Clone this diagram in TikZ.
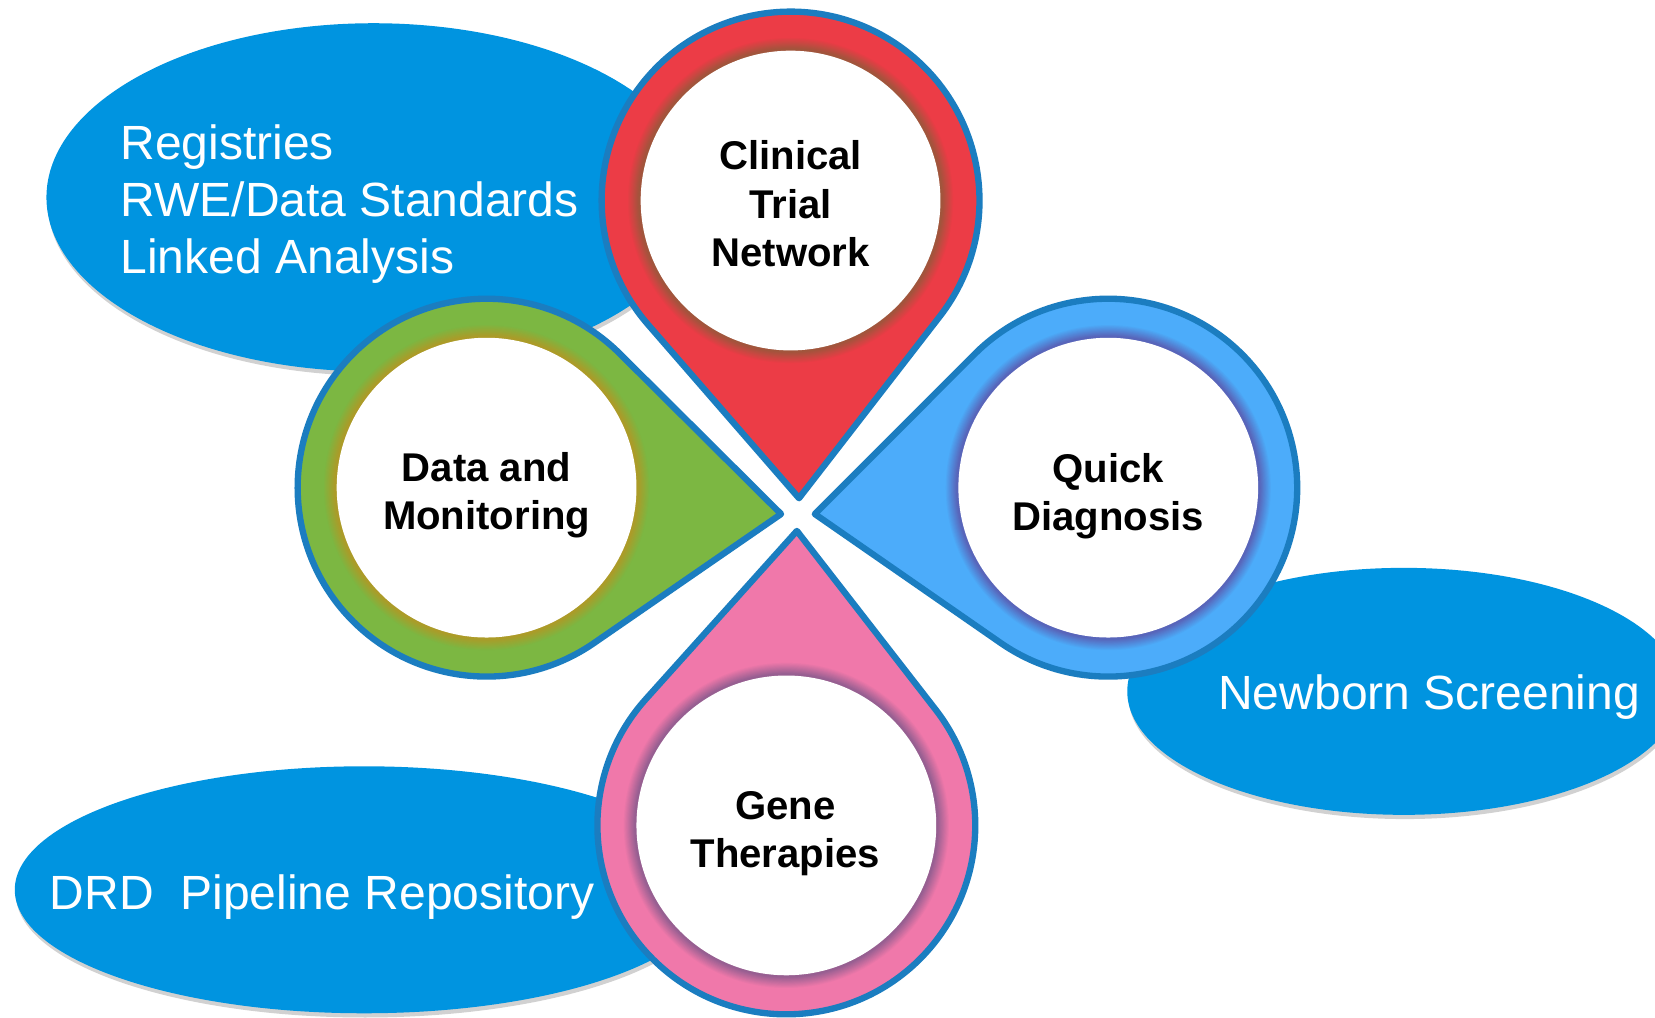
\documentclass[tikz,border=0pt]{standalone}
\usepackage{fontspec}
\setmainfont{Liberation Sans}
\usetikzlibrary{calc,shapes.geometric,shadows}
\definecolor{pinline}{RGB}{27,125,192}
\definecolor{ellblue}{RGB}{0,148,224}
\definecolor{redring}{RGB}{236,60,70}
\definecolor{redsh}{RGB}{160,85,60}
\definecolor{greenring}{RGB}{124,183,66}
\definecolor{greensh}{RGB}{172,155,40}
\definecolor{bluering}{RGB}{76,172,250}
\definecolor{bluesh}{RGB}{88,100,185}
\definecolor{pinkring}{RGB}{240,120,170}
\definecolor{pinksh}{RGB}{150,95,145}

% #1 centre, #2 tip, #3 ring colour, #4 inner shadow colour
\newcommand{\pinbody}[4]{%
  \path[fill=#3, draw=pinline, line width=6pt, line join=round]
    let \p1=($(#2)-(#1)$), \n1={veclen(\x1,\y1)}, \n2={atan2(\y1,\x1)}, \n3={acos(179/\n1)} in
    ($(#1)+(\n2+\n3:179pt)$) arc[start angle=\n2+\n3, end angle=\n2-\n3+360, radius=179pt]
    -- (#2) -- cycle;
  \foreach \k in {0,...,11}{%
    \pgfmathtruncatemacro\pc{\k*9}%
    \fill[color=#4!\pc!#3] (#1) circle[radius={(155-\k)*1pt}];
  }%
  \fill[white] (#1) circle[radius=142pt];
}

\begin{document}
\begin{tikzpicture}[x=1pt,y=-1pt,
  bubble/.style={ellipse, fill=ellblue, draw=none, inner sep=0pt,
    drop shadow={shadow xshift=1pt, shadow yshift=-4pt, opacity=0.18, fill=black}},
  bubbletext/.style={text=white, font=\fontsize{45.5}{54}\selectfont, inner sep=0pt},
  pinlabel/.style={font=\fontsize{38}{46}\selectfont\bfseries, align=center, inner sep=0pt, text=black}]
\useasboundingbox (0,0) rectangle (1568,964);
\clip (0,0) rectangle (1568,964);
\fill[white] (0,0) rectangle (1568,964);

% background bubbles
\node[bubble, minimum width=620pt, minimum height=330pt] (e1) at (354,187) {};
\node[bubble, minimum width=662pt, minimum height=234pt] (e2) at (345,843) {};
\node[bubble, minimum width=524pt, minimum height=234pt] (e3) at (1330,655) {};

\node[bubbletext, anchor=north west, align=left] (t1) at (114,118)
  {Registries\\RWE/Data Standards\\Linked Analysis};
\node[bubbletext, anchor=base west] (t2) at (47,862) {DRD\ \ Pipeline Repository};
\node[bubbletext, anchor=base west] (t3) at (1154,672) {Newborn Screening};

% pins
\coordinate (cR) at (749,190);  \coordinate (tR) at (757,472);
\coordinate (cG) at (461,462);  \coordinate (tG) at (740,487);
\coordinate (cB) at (1050,462); \coordinate (tB) at (772,487);
\coordinate (cP) at (745,782);  \coordinate (tP) at (755,503);

\pinbody{cR}{tR}{redring}{redsh}
\pinbody{cG}{tG}{greenring}{greensh}
\pinbody{cB}{tB}{bluering}{bluesh}
\pinbody{cP}{tP}{pinkring}{pinksh}

\node[pinlabel] (ctn) at (749,193) {Clinical\\Trial\\Network};
\node[pinlabel] (dm) at (461,469) {Data and\\Monitoring};
\node[pinlabel] (qd) at (1050,470) {Quick\\Diagnosis};
\node[pinlabel] (gt) at (744,790) {Gene\\Therapies};
\end{tikzpicture}
\end{document}
